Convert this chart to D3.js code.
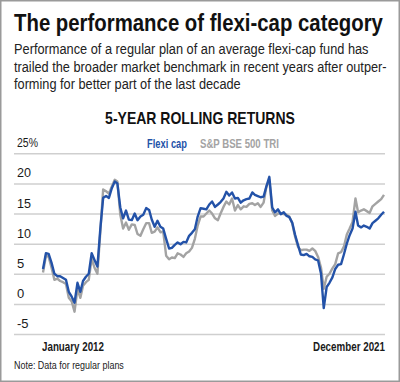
<!DOCTYPE html>
<html><head><meta charset="utf-8">
<script src="https://cdn.jsdelivr.net/npm/d3@7"></script>
<style>
html,body{margin:0;padding:0;background:#fff;}
svg{display:block;}
text{font-family:"Liberation Sans Narrow","Arial Narrow","Liberation Sans",Arial,sans-serif;}
</style></head>
<body>
<svg id="c" width="400" height="382"></svg>
<script>
const title = "The performance of flexi-cap category";
const subtitleLines = [
  "Performance of a regular plan of an average flexi-cap fund has",
  "trailed the broader market benchmark in recent years after outper-",
  "forming for better part of the last decade"
];
const chartTitle = "5-YEAR ROLLING RETURNS";
const seriesNames = ["Flexi cap", "S&P BSE 500 TRI"];
const yTicks = [-5, 0, 5, 10, 15, 20, 25];
const xLabels = ["January 2012", "December 2021"];
const note = "Note: Data for regular plans";

// monthly, Jan 2012 .. Dec 2021
const flexiCap = [
 5.8,8.4,8.3,6.8,5.0,4.6,4.6,4.3,4.0,2.0,1.2,0.2,
 3.5,2.0,3.8,4.5,5.0,8.4,7.3,6.2,12.5,17.6,17.9,17.6,
 19.2,20.3,20.0,16.0,14.2,15.5,14.0,13.9,15.0,13.9,14.5,14.8,
 15.9,15.6,14.0,12.8,13.8,12.8,12.5,10.8,9.2,9.3,9.8,10.2,
 9.9,10.3,10.2,11.3,11.8,12.4,14.5,15.9,15.8,15.7,16.5,17.0,
 16.1,16.5,16.9,17.5,18.6,18.0,18.5,17.5,17.6,16.8,17.2,17.4,
 17.5,18.5,18.1,17.9,17.7,17.8,19.5,21.1,16.0,15.2,15.7,14.9,
 15.2,14.6,14.4,13.5,11.5,9.8,8.2,8.1,8.3,7.9,7.8,7.4,
 7.2,5.0,-0.7,2.8,3.5,4.4,5.8,6.5,6.6,8.2,10.0,11.4,
 12.5,15.3,13.0,12.7,13.0,12.8,12.5,13.4,13.8,14.2,14.8,15.3
];
const bse500 = [
 5.2,8.0,7.8,6.0,4.0,4.2,3.8,3.6,3.3,1.0,0.4,-1.3,
 2.5,1.0,3.0,3.6,4.0,7.5,6.0,5.0,12.0,19.0,18.7,18.3,
 19.5,20.6,20.3,14.8,12.5,13.5,12.3,13.2,13.1,11.6,11.3,12.4,
 13.4,13.4,11.8,12.0,12.7,11.9,12.0,8.0,7.4,7.7,7.6,8.4,
 8.2,7.8,8.4,8.7,9.3,10.8,13.0,14.5,14.5,15.0,15.5,15.0,
 14.2,13.9,15.0,16.1,17.0,16.5,17.5,15.5,16.4,15.7,16.2,16.1,
 16.6,16.7,16.4,16.7,16.1,16.8,19.5,20.6,15.5,14.6,15.0,15.0,
 14.9,14.8,14.5,13.4,11.2,9.5,8.9,9.0,9.0,8.8,9.2,8.8,
 7.8,6.0,2.5,4.5,5.0,5.9,6.6,8.4,8.6,9.5,11.5,12.5,
 13.6,17.5,15.2,15.5,15.7,15.4,15.1,16.2,16.6,17.0,17.4,18.1
];
const months = flexiCap.map((d,i)=> new Date(2012, i, 1));

const svg = d3.select("#c");
const blue = "#2352a8", grey = "#a3a3a3", dark = "#1a1a1a";

// places text at (x,y) and compresses it horizontally to the given width
function fitText(str, x, y, width, opts) {
  const g = svg.append("g");
  const t = g.append("text").attr("x",0).attr("y",0).text(str)
    .attr("font-size",opts.size).attr("fill",opts.fill || dark)
    .attr("font-weight",opts.weight || "normal")
    .attr("text-anchor",opts.anchor || "start");
  const w = t.node().getComputedTextLength();
  const sx = Math.min(1, width / w);
  g.attr("transform",`translate(${x},${y}) scale(${sx},1)`);
  return t;
}

// frame
svg.append("rect").attr("x",0.75).attr("y",0.75).attr("width",398.5).attr("height",380.5)
  .attr("fill","none").attr("stroke","#9a9a9a").attr("stroke-width",1.5);

fitText(title, 14, 31, 369, {size:23, weight:"bold", fill:"#111"});
const subW = [355, 373, 227];
subtitleLines.forEach((s,i)=> fitText(s, 14, 54+i*17.5, subW[i], {size:14.5, fill:"#222"}));
fitText(chartTitle, 200, 124, 190, {size:17, weight:"bold", fill:"#111", anchor:"middle"});

// scales
const x = d3.scaleTime().domain([months[0], months[months.length-1]]).range([43, 384]);
const y = d3.scaleLinear().domain([-5, 25]).range([334, 153.3]);

// gridlines via axis
const gAxis = svg.append("g").attr("transform","translate(14,0)")
  .call(d3.axisRight(y).tickValues(yTicks).tickSize(371).tickFormat(""));
gAxis.select(".domain").remove();
gAxis.selectAll(".tick line").attr("stroke","#cfcfcf").attr("stroke-width",1.5);

// y labels
yTicks.forEach(d=> fitText(d===25 ? "25%" : String(d), 17, y(d)-6, d===25 ? 21 : 14, {size:13, fill:dark}));

// legend
fitText(seriesNames[0], 147, 148, 40, {size:12, weight:"bold", fill:blue});
fitText(seriesNames[1], 200, 148, 79, {size:12, weight:"bold", fill:grey});

// lines
const line = d3.line().x((d,i)=>x(months[i])).y(d=>y(d));
svg.append("path").datum(bse500).attr("d",line).attr("fill","none")
  .attr("stroke",grey).attr("stroke-width",2.4).attr("stroke-linejoin","round");
svg.append("path").datum(flexiCap).attr("d",line).attr("fill","none")
  .attr("stroke",blue).attr("stroke-width",2.4).attr("stroke-linejoin","round");

// x labels
fitText(xLabels[0], 42, 351, 62, {size:13, weight:"bold", fill:dark});
fitText(xLabels[1], 385, 351, 72, {size:13, weight:"bold", fill:dark, anchor:"end"});

fitText(note, 14, 369, 110, {size:11, fill:"#222"});
</script>
</body></html>
